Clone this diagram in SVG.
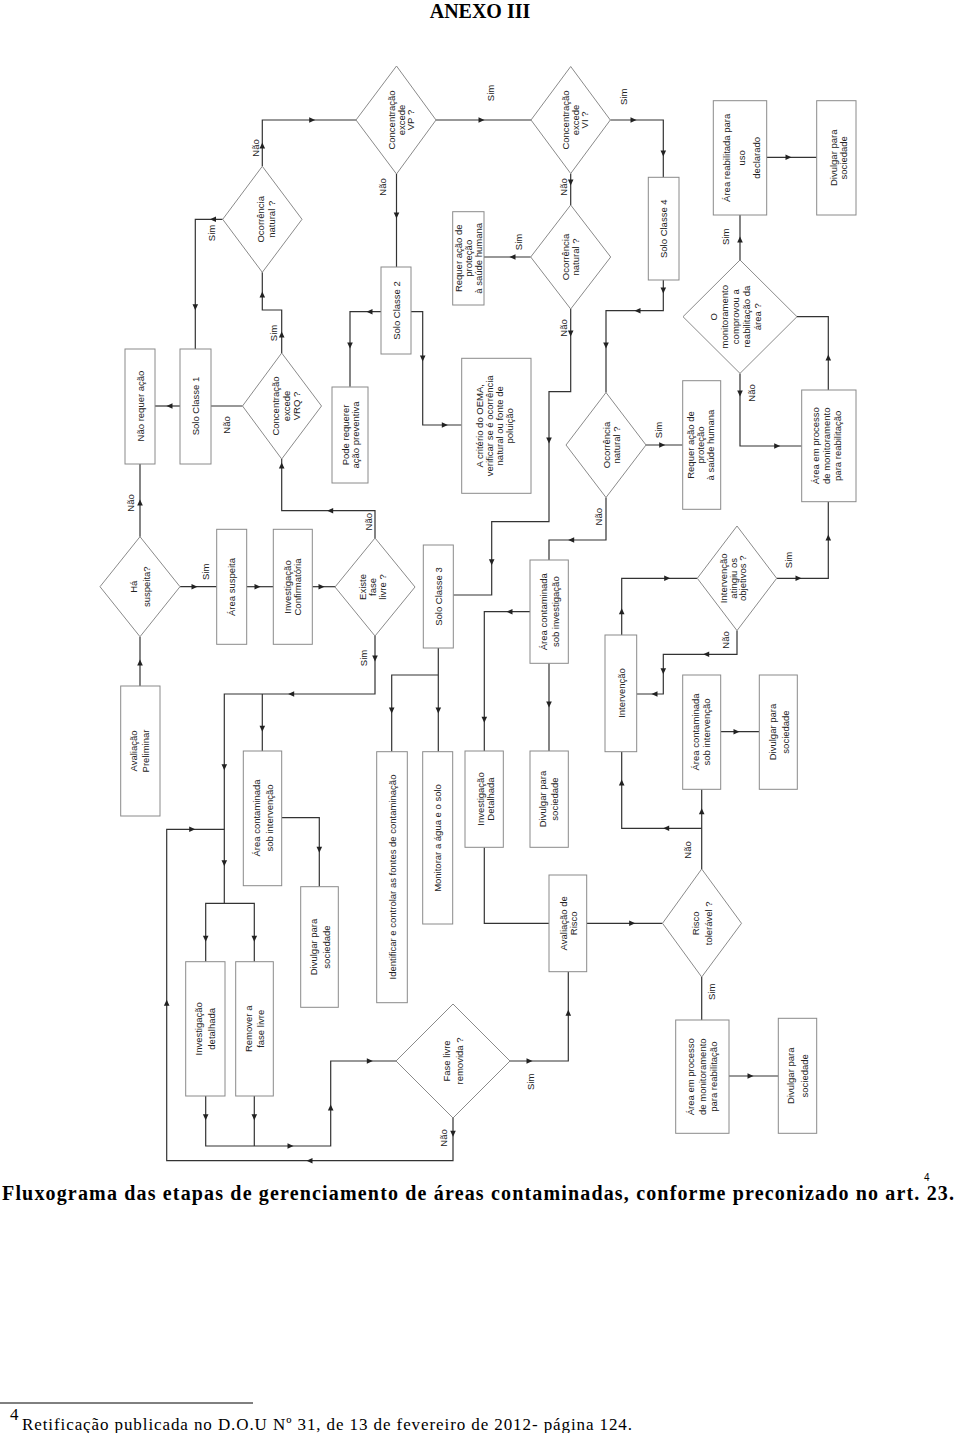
<svg xmlns="http://www.w3.org/2000/svg" width="960" height="1433" viewBox="0 0 960 1433">
<style>
.b{fill:#fff;stroke:#8a8a8a;stroke-width:1}
.t{font-family:"Liberation Sans",Arial,sans-serif;font-size:9.5px;fill:#222;text-anchor:middle}
.c{fill:none;stroke:#333;stroke-width:1.2}
.ttl{font-family:"Liberation Serif","Times New Roman",serif;font-weight:bold;font-size:20px;fill:#000}
.fn{font-family:"Liberation Serif","Times New Roman",serif;font-size:17px;fill:#000}
</style>
<defs>
<path id="a" d="M3.5,0 L-2.5,-2.8 L-2.5,2.8 Z" fill="#222"/>
</defs>
<rect width="960" height="1433" fill="#fff"/>
<text class="ttl" x="480" y="18" text-anchor="middle">ANEXO III</text>

<g id="connectors">
<path class="c" d="M140,536.7 V464"/>
<path class="c" d="M180,586.7 H216.7"/>
<path class="c" d="M246.7,586.7 H273.3"/>
<path class="c" d="M312.3,586.7 H335"/>
<path class="c" d="M140,686 V636.7"/>
<path class="c" d="M375,538 V510.7 H281.7 V459"/>
<path class="c" d="M242.5,406 H210.7"/>
<path class="c" d="M180,406 H155"/>
<path class="c" d="M281.7,353 V310 H262.3 V272.3"/>
<path class="c" d="M222.7,219.3 H195.3 V349"/>
<path class="c" d="M262.3,166.3 V120 H356"/>
<path class="c" d="M436,120 H531"/>
<path class="c" d="M396.5,174 V267"/>
<path class="c" d="M381,311.7 H350 V386.7"/>
<path class="c" d="M411,311.7 H422.7 V425 H461.7"/>
<path class="c" d="M610.3,120 H663.3 V177.3"/>
<path class="c" d="M570.7,173.5 V205"/>
<path class="c" d="M530.7,257 H484"/>
<path class="c" d="M570.7,309 V391.7 H549 V521.7 H491.7 V595 H453.3"/>
<path class="c" d="M663.3,280 V310.7 H606 V392.5"/>
<path class="c" d="M646,445 H682.7"/>
<path class="c" d="M606,497.5 V540 H549 V560"/>
<path class="c" d="M530,611.7 H484.3 V751"/>
<path class="c" d="M549,663.3 V751"/>
<path class="c" d="M438.3,648 V751.7 M438.3,675 H391.7 V751.7"/>
<path class="c" d="M484.3,847.3 V923.3 H549"/>
<path class="c" d="M586.7,923.3 H662.5"/>
<path class="c" d="M701.7,977 V1020"/>
<path class="c" d="M729,1076 H778.3"/>
<path class="c" d="M701.7,869 V789.3"/>
<path class="c" d="M701.7,828.3 H621.7 V751.7"/>
<path class="c" d="M720.7,731.7 H759.3"/>
<path class="c" d="M621.7,635 V578.3 H697.3"/>
<path class="c" d="M737,630.6 V654.3 H663.3 V694 H636.7"/>
<path class="c" d="M776.7,578.3 H828.3 V501.7"/>
<path class="c" d="M828.3,390 V316.7 H797"/>
<path class="c" d="M740,260 V215"/>
<path class="c" d="M766.7,157.3 H816.7"/>
<path class="c" d="M740,373.4 V446 H801.7"/>
<path class="c" d="M375,636 V694 H224.3 V903.3 M262.3,694 V751"/>
<path class="c" d="M281.7,817.7 H319.3 V886.7"/>
<path class="c" d="M205.7,961.7 V903.3 H254.3 V961.7"/>
<path class="c" d="M205.7,1096 V1146 H330.7 V1061 H396 M254.3,1096 V1146"/>
<path class="c" d="M510,1061 H568.3 V971.7"/>
<path class="c" d="M453,1118 V1160.7 H166.7 V829.3 H224.3"/>

<use href="#a" transform="translate(140,503) rotate(-90)"/>
<use href="#a" transform="translate(194,586.7)"/>
<use href="#a" transform="translate(257,586.7)"/>
<use href="#a" transform="translate(321,586.7)"/>
<use href="#a" transform="translate(140,663) rotate(-90)"/>
<use href="#a" transform="translate(330.7,510.7) rotate(180)"/>
<use href="#a" transform="translate(281.7,466) rotate(-90)"/>
<use href="#a" transform="translate(170,406) rotate(180)"/>
<use href="#a" transform="translate(281.7,335) rotate(-90)"/>
<use href="#a" transform="translate(262.3,295) rotate(-90)"/>
<use href="#a" transform="translate(213.5,219.3) rotate(180)"/>
<use href="#a" transform="translate(195.3,306.7) rotate(90)"/>
<use href="#a" transform="translate(262.3,146) rotate(-90)"/>
<use href="#a" transform="translate(311.7,120)"/>
<use href="#a" transform="translate(481,120)"/>
<use href="#a" transform="translate(396.5,215) rotate(90)"/>
<use href="#a" transform="translate(370,311.7) rotate(180)"/>
<use href="#a" transform="translate(350,345) rotate(90)"/>
<use href="#a" transform="translate(422.7,358) rotate(90)"/>
<use href="#a" transform="translate(444.3,425)"/>
<use href="#a" transform="translate(633,120)"/>
<use href="#a" transform="translate(663.3,153) rotate(90)"/>
<use href="#a" transform="translate(570.7,182) rotate(90)"/>
<use href="#a" transform="translate(513,257) rotate(180)"/>
<use href="#a" transform="translate(570.7,333) rotate(90)"/>
<use href="#a" transform="translate(549,440) rotate(90)"/>
<use href="#a" transform="translate(491.7,561.7) rotate(90)"/>
<use href="#a" transform="translate(663.3,290) rotate(90)"/>
<use href="#a" transform="translate(638,310.7) rotate(180)"/>
<use href="#a" transform="translate(606,345) rotate(90)"/>
<use href="#a" transform="translate(661.7,445)"/>
<use href="#a" transform="translate(571.7,540) rotate(180)"/>
<use href="#a" transform="translate(510,611.7) rotate(180)"/>
<use href="#a" transform="translate(484.3,719.3) rotate(90)"/>
<use href="#a" transform="translate(549,704) rotate(90)"/>
<use href="#a" transform="translate(438.3,710) rotate(90)"/>
<use href="#a" transform="translate(391.7,710) rotate(90)"/>
<use href="#a" transform="translate(631.7,923.3)"/>
<use href="#a" transform="translate(750,1076)"/>
<use href="#a" transform="translate(701.7,811.7) rotate(-90)"/>
<use href="#a" transform="translate(666.7,828.3) rotate(180)"/>
<use href="#a" transform="translate(621.7,783) rotate(-90)"/>
<use href="#a" transform="translate(736,731.7)"/>
<use href="#a" transform="translate(621.7,611.7) rotate(-90)"/>
<use href="#a" transform="translate(666.7,578.3)"/>
<use href="#a" transform="translate(706.7,654.3) rotate(180)"/>
<use href="#a" transform="translate(663.3,670.7) rotate(90)"/>
<use href="#a" transform="translate(655,694) rotate(180)"/>
<use href="#a" transform="translate(798,578.3)"/>
<use href="#a" transform="translate(828.3,538) rotate(-90)"/>
<use href="#a" transform="translate(828.3,358) rotate(-90)"/>
<use href="#a" transform="translate(740,240) rotate(-90)"/>
<use href="#a" transform="translate(788,157.3)"/>
<use href="#a" transform="translate(740,393) rotate(90)"/>
<use href="#a" transform="translate(776.7,446)"/>
<use href="#a" transform="translate(375,658) rotate(90)"/>
<use href="#a" transform="translate(291.7,694) rotate(180)"/>
<use href="#a" transform="translate(224.3,766.7) rotate(90)"/>
<use href="#a" transform="translate(224.3,862.7) rotate(90)"/>
<use href="#a" transform="translate(262.3,728.3) rotate(90)"/>
<use href="#a" transform="translate(319.3,849.3) rotate(90)"/>
<use href="#a" transform="translate(205.7,938.3) rotate(90)"/>
<use href="#a" transform="translate(254.3,938.3) rotate(90)"/>
<use href="#a" transform="translate(205.7,1116.7) rotate(90)"/>
<use href="#a" transform="translate(254.3,1116.7) rotate(90)"/>
<use href="#a" transform="translate(290,1146)"/>
<use href="#a" transform="translate(330.7,1108) rotate(-90)"/>
<use href="#a" transform="translate(369.3,1061)"/>
<use href="#a" transform="translate(529,1061)"/>
<use href="#a" transform="translate(568.3,1013.3) rotate(-90)"/>
<use href="#a" transform="translate(453,1133.3) rotate(90)"/>
<use href="#a" transform="translate(310,1160.7) rotate(180)"/>
<use href="#a" transform="translate(166.7,1003.3) rotate(-90)"/>
<use href="#a" transform="translate(191.7,829.3)"/>

<text class="t" transform="translate(130,503) rotate(-90)" y="3.5">Não</text>
<text class="t" transform="translate(205,571.7) rotate(-90)" y="3.5">Sim</text>
<text class="t" transform="translate(368,521.7) rotate(-90)" y="3.5">Não</text>
<text class="t" transform="translate(226.7,425) rotate(-90)" y="3.5">Não</text>
<text class="t" transform="translate(273,333) rotate(-90)" y="3.5">Sim</text>
<text class="t" transform="translate(211.7,233) rotate(-90)" y="3.5">Sim</text>
<text class="t" transform="translate(255,148) rotate(-90)" y="3.5">Não</text>
<text class="t" transform="translate(490,93) rotate(-90)" y="3.5">Sim</text>
<text class="t" transform="translate(382,187) rotate(-90)" y="3.5">Não</text>
<text class="t" transform="translate(623,96.7) rotate(-90)" y="3.5">Sim</text>
<text class="t" transform="translate(563,187) rotate(-90)" y="3.5">Não</text>
<text class="t" transform="translate(518,242) rotate(-90)" y="3.5">Sim</text>
<text class="t" transform="translate(563,328) rotate(-90)" y="3.5">Não</text>
<text class="t" transform="translate(658,430) rotate(-90)" y="3.5">Sim</text>
<text class="t" transform="translate(598,516.7) rotate(-90)" y="3.5">Não</text>
<text class="t" transform="translate(687.3,850) rotate(-90)" y="3.5">Não</text>
<text class="t" transform="translate(725,640) rotate(-90)" y="3.5">Não</text>
<text class="t" transform="translate(788,560) rotate(-90)" y="3.5">Sim</text>
<text class="t" transform="translate(725,236.7) rotate(-90)" y="3.5">Sim</text>
<text class="t" transform="translate(751.7,393) rotate(-90)" y="3.5">Não</text>
<text class="t" transform="translate(363,658) rotate(-90)" y="3.5">Sim</text>
<text class="t" transform="translate(530,1081.7) rotate(-90)" y="3.5">Sim</text>
<text class="t" transform="translate(443,1138) rotate(-90)" y="3.5">Não</text>
<text class="t" transform="translate(711.7,991.7) rotate(-90)" y="3.5">Sim</text>
</g>

<g id="n1"><rect class="b" x="125" y="349" width="30" height="115"/><text class="t" transform="translate(140,406) rotate(-90)" y="3.5">Não requer ação</text></g>
<g id="n2"><rect class="b" x="180" y="349" width="31" height="115"/><text class="t" transform="translate(195.5,406) rotate(-90)" y="3.5">Solo Classe 1</text></g>
<g id="n3"><rect class="b" x="332" y="387" width="36" height="96"/><text class="t" transform="translate(350,435) rotate(-90)"><tspan x="0" y="-1.5">Pode requerer</tspan><tspan x="0" y="8.5">ação preventiva</tspan></text></g>
<g id="n4"><rect class="b" x="381" y="267" width="30" height="87"/><text class="t" transform="translate(396,310.5) rotate(-90)" y="3.5">Solo Classe 2</text></g>
<g id="n5"><rect class="b" x="452.7" y="211.7" width="31.3" height="93.3"/><text class="t" transform="translate(468.3,258.3) rotate(-90)"><tspan x="0" y="-6.5">Requer ação de</tspan><tspan x="0" y="3.5">proteção</tspan><tspan x="0" y="13.5">à saúde humana</tspan></text></g>
<g id="n6"><rect class="b" x="461.7" y="358.3" width="69.3" height="135"/><text class="t" transform="translate(494,425.8) rotate(-90)"><tspan x="0" y="-11.5">A critério do OEMA,</tspan><tspan x="0" y="-1.5">verificar se é ocorrência</tspan><tspan x="0" y="8.5">natural ou fonte de</tspan><tspan x="0" y="18.5">poluição</tspan></text></g>
<g id="n7"><rect class="b" x="648.3" y="177.3" width="30.7" height="102.7"/><text class="t" transform="translate(663.7,228.7) rotate(-90)" y="3.5">Solo Classe 4</text></g>
<g id="n8"><rect class="b" x="713.3" y="100.7" width="53.4" height="114.3"/><text class="t" transform="translate(741,157.8) rotate(-90)"><tspan x="0" y="-11.5">Área reabilitada para</tspan><tspan x="0" y="3.5">uso</tspan><tspan x="0" y="18.5">declarado</tspan></text></g>
<g id="n9"><rect class="b" x="816.7" y="100.7" width="39.3" height="114.3"/><text class="t" transform="translate(838,157.8) rotate(-90)"><tspan x="0" y="-1.5">Divulgar para</tspan><tspan x="0" y="8.5">sociedade</tspan></text></g>
<g id="n10"><rect class="b" x="682.7" y="380.7" width="38" height="128.6"/><text class="t" transform="translate(700,445) rotate(-90)"><tspan x="0" y="-6.5">Requer ação de</tspan><tspan x="0" y="3.5">proteção</tspan><tspan x="0" y="13.5">à saúde humana</tspan></text></g>
<g id="n11"><rect class="b" x="801.7" y="390" width="54.3" height="111.7"/><text class="t" transform="translate(826,445.8) rotate(-90)"><tspan x="0" y="-7.5">Área em processo</tspan><tspan x="0" y="3.5">de monitoramento</tspan><tspan x="0" y="14.5">para reabilitação</tspan></text></g>
<g id="n12"><rect class="b" x="216.7" y="529.3" width="30" height="115"/><text class="t" transform="translate(231.7,587) rotate(-90)" y="3.5">Área suspeita</text></g>
<g id="n13"><rect class="b" x="273.3" y="529.3" width="39" height="115"/><text class="t" transform="translate(292,587) rotate(-90)"><tspan x="0" y="-1.5">Investigação</tspan><tspan x="0" y="8.5">Confirmatória</tspan></text></g>
<g id="n14"><rect class="b" x="423.3" y="545" width="30" height="103"/><text class="t" transform="translate(438.3,596.5) rotate(-90)" y="3.5">Solo Classe 3</text></g>
<g id="n15"><rect class="b" x="530" y="560" width="38.3" height="103.3"/><text class="t" transform="translate(549.2,611.7) rotate(-90)"><tspan x="0" y="-2.5">Área contaminada</tspan><tspan x="0" y="9.5">sob investigação</tspan></text></g>
<g id="n16"><rect class="b" x="605" y="635" width="31.7" height="116.7"/><text class="t" transform="translate(621,693) rotate(-90)" y="3.5">Intervenção</text></g>
<g id="n17"><rect class="b" x="682.7" y="675" width="38" height="114.3"/><text class="t" transform="translate(701,732) rotate(-90)"><tspan x="0" y="-2">Área contaminada</tspan><tspan x="0" y="9">sob intervenção</tspan></text></g>
<g id="n18"><rect class="b" x="759.3" y="675" width="38" height="114.3"/><text class="t" transform="translate(779,732) rotate(-90)"><tspan x="0" y="-3">Divulgar para</tspan><tspan x="0" y="10">sociedade</tspan></text></g>
<g id="n19"><rect class="b" x="120.7" y="686" width="39.3" height="130"/><text class="t" transform="translate(139.5,751) rotate(-90)"><tspan x="0" y="-2.5">Avaliação</tspan><tspan x="0" y="9.5">Preliminar</tspan></text></g>
<g id="n20"><rect class="b" x="243.3" y="751" width="38.4" height="134.7"/><text class="t" transform="translate(262.5,818) rotate(-90)"><tspan x="0" y="-3">Área contaminada</tspan><tspan x="0" y="10">sob intervenção</tspan></text></g>
<g id="n21"><rect class="b" x="376.7" y="751.7" width="30.6" height="251"/><text class="t" transform="translate(392,877) rotate(-90)" y="3.5">Identificar e controlar as fontes de contaminação</text></g>
<g id="n22"><rect class="b" x="422.7" y="751.7" width="30" height="172.3"/><text class="t" transform="translate(437.7,838) rotate(-90)" y="3.5">Monitorar a água e o solo</text></g>
<g id="n23"><rect class="b" x="465" y="751" width="38.3" height="96.3"/><text class="t" transform="translate(485,799) rotate(-90)"><tspan x="0" y="-1.5">Investigação</tspan><tspan x="0" y="8.5">Detalhada</tspan></text></g>
<g id="n24"><rect class="b" x="530" y="751" width="38.3" height="96.3"/><text class="t" transform="translate(548.5,799) rotate(-90)"><tspan x="0" y="-2.5">Divulgar para</tspan><tspan x="0" y="9.5">sociedade</tspan></text></g>
<g id="n25"><rect class="b" x="300.7" y="886.7" width="37.6" height="120.6"/><text class="t" transform="translate(319.5,947) rotate(-90)"><tspan x="0" y="-3">Divulgar para</tspan><tspan x="0" y="10">sociedade</tspan></text></g>
<g id="n26"><rect class="b" x="549" y="875" width="37.7" height="96.7"/><text class="t" transform="translate(568,923.3) rotate(-90)"><tspan x="0" y="-1.5">Avaliação de</tspan><tspan x="0" y="8.5">Risco</tspan></text></g>
<g id="n27"><rect class="b" x="185.7" y="961.7" width="39.3" height="134.3"/><text class="t" transform="translate(205.3,1028.8) rotate(-90)"><tspan x="0" y="-3">Investigação</tspan><tspan x="0" y="10">detalhada</tspan></text></g>
<g id="n28"><rect class="b" x="235.7" y="961.7" width="37.6" height="134.3"/><text class="t" transform="translate(254.5,1028.8) rotate(-90)"><tspan x="0" y="-2.5">Remover a</tspan><tspan x="0" y="9.5">fase livre</tspan></text></g>
<g id="n29"><rect class="b" x="675.7" y="1020" width="53.3" height="113.3"/><text class="t" transform="translate(702,1076.7) rotate(-90)"><tspan x="0" y="-8">Área em processo</tspan><tspan x="0" y="3.5">de monitoramento</tspan><tspan x="0" y="15">para reabilitação</tspan></text></g>
<g id="n30"><rect class="b" x="778.3" y="1018.3" width="38.4" height="115"/><text class="t" transform="translate(797.5,1075.8) rotate(-90)"><tspan x="0" y="-3.5">Divulgar para</tspan><tspan x="0" y="10.5">sociedade</tspan></text></g>

<g id="d1"><polygon class="b" points="262.3,166.3 302,219.3 262.3,272.3 222.7,219.3"/><text class="t" transform="translate(266,219.3) rotate(-90)"><tspan x="0" y="-2">Ocorrência</tspan><tspan x="0" y="9">natural ?</tspan></text></g>
<g id="d2"><polygon class="b" points="396.5,66 436,120 396.5,174 356,120"/><text class="t" transform="translate(401,120) rotate(-90)"><tspan x="0" y="-6">Concentração</tspan><tspan x="0" y="3.5">excede</tspan><tspan x="0" y="13">VP ?</tspan></text></g>
<g id="d3"><polygon class="b" points="570.7,66.5 610.3,120 570.7,173.5 531,120"/><text class="t" transform="translate(575,120) rotate(-90)"><tspan x="0" y="-6">Concentração</tspan><tspan x="0" y="3.5">excede</tspan><tspan x="0" y="13">VI ?</tspan></text></g>
<g id="d4"><polygon class="b" points="570.7,205 610.7,257 570.7,309 530.7,257"/><text class="t" transform="translate(570.7,257) rotate(-90)"><tspan x="0" y="-1.5">Ocorrência</tspan><tspan x="0" y="8.5">natural ?</tspan></text></g>
<g id="d5"><polygon class="b" points="740,260 797,316.7 740,373.4 683,316.7"/><text class="t" transform="translate(735,316.7) rotate(-90)"><tspan x="0" y="-18.5">O</tspan><tspan x="0" y="-7.5">monitoramento</tspan><tspan x="0" y="3.5">comprovou a</tspan><tspan x="0" y="14.5">reabilitação da</tspan><tspan x="0" y="25.5">área ?</tspan></text></g>
<g id="d6"><polygon class="b" points="281.7,353 321.5,406 281.7,459 242.5,406"/><text class="t" transform="translate(286,406) rotate(-90)"><tspan x="0" y="-7">Concentração</tspan><tspan x="0" y="3.5">excede</tspan><tspan x="0" y="14">VRQ ?</tspan></text></g>
<g id="d7"><polygon class="b" points="606,392.5 646,445 606,497.5 566,445"/><text class="t" transform="translate(611,445) rotate(-90)"><tspan x="0" y="-1.5">Ocorrência</tspan><tspan x="0" y="8.5">natural ?</tspan></text></g>
<g id="d8"><polygon class="b" points="140,536.7 180,586.7 140,636.7 100,586.7"/><text class="t" transform="translate(140,586.7) rotate(-90)"><tspan x="0" y="-3">Há</tspan><tspan x="0" y="10">suspeita?</tspan></text></g>
<g id="d9"><polygon class="b" points="375,538 415,587 375,636 335,587"/><text class="t" transform="translate(372,587) rotate(-90)"><tspan x="0" y="-6.5">Existe</tspan><tspan x="0" y="3.5">fase</tspan><tspan x="0" y="13.5">livre ?</tspan></text></g>
<g id="d10"><polygon class="b" points="737,526 776.7,578.3 737,630.6 697.3,578.3"/><text class="t" transform="translate(733,578.3) rotate(-90)"><tspan x="0" y="-6">Intervenção</tspan><tspan x="0" y="3.5">atingiu os</tspan><tspan x="0" y="13">objetivos ?</tspan></text></g>
<g id="d11"><polygon class="b" points="701.7,869 741.5,923.3 701.7,977 662.5,923.3"/><text class="t" transform="translate(701.7,923.3) rotate(-90)"><tspan x="0" y="-3">Risco</tspan><tspan x="0" y="10">tolerável ?</tspan></text></g>
<g id="d12"><polygon class="b" points="453,1004 510,1061 453,1118 396,1061"/><text class="t" transform="translate(453,1061) rotate(-90)"><tspan x="0" y="-3">Fase livre</tspan><tspan x="0" y="10">removida ?</tspan></text></g>

<text x="924" y="1181" font-family="Liberation Sans,Arial,sans-serif" font-size="10">4</text>
<text class="ttl" x="2" y="1200" textLength="952" lengthAdjust="spacing">Fluxograma das etapas de gerenciamento de áreas contaminadas, conforme preconizado no art. 23.</text>
<line x1="0" y1="1403" x2="253" y2="1403" stroke="#000" stroke-width="1"/>
<text class="fn" x="10" y="1420" font-size="11">4</text>
<text class="fn" x="22" y="1430" textLength="610" lengthAdjust="spacing">Retificação publicada no D.O.U Nº 31, de 13 de fevereiro de 2012- página 124.</text>
</svg>
